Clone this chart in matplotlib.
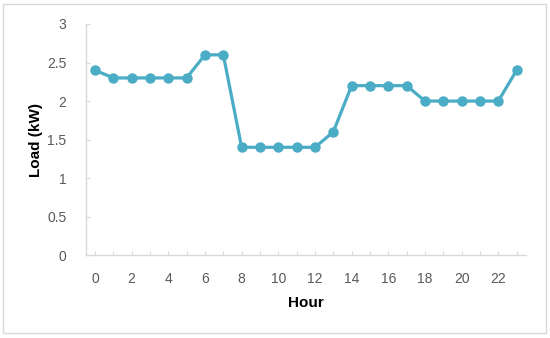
import matplotlib.pyplot as plt
from matplotlib.patches import Rectangle

hours = list(range(24))
load_kw = [2.4, 2.3, 2.3, 2.3, 2.3, 2.3, 2.6, 2.6, 1.4, 1.4, 1.4, 1.4,
           1.4, 1.6, 2.2, 2.2, 2.2, 2.2, 2.0, 2.0, 2.0, 2.0, 2.0, 2.4]
y_ticks = [0, 0.5, 1, 1.5, 2, 2.5, 3]
y_tick_labels = ["0", "0.5", "1", "1.5", "2", "2.5", "3"]

plt.rcParams["font.family"] = ["Liberation Sans", "DejaVu Sans"]

fig = plt.figure(figsize=(5.5, 3.38), dpi=100)
ax = fig.add_axes([0.156, 0.245, 0.80, 0.684])

# light grey frame round the whole chart
fig.patches.append(Rectangle((0.006, 0.015), 0.987, 0.972, transform=fig.transFigure,
                             fill=False, edgecolor="#d9d9d9", linewidth=1.0))

ax.plot(hours, load_kw, color="#4BACC6", linewidth=2.3, marker="o",
        markersize=6.5, markerfacecolor="#4BACC6", markeredgecolor="#4BACC6")

ax.set_xlim(-0.5, 23.5)
ax.set_ylim(0, 3)
ax.set_xticks(hours)
ax.set_xticklabels([str(h) if h % 2 == 0 else "" for h in hours])
ax.set_yticks(y_ticks)
ax.set_yticklabels(y_tick_labels)

for side in ["top", "right"]:
    ax.spines[side].set_visible(False)
for side in ["left", "bottom"]:
    ax.spines[side].set_color("#d9d9d9")
    ax.spines[side].set_linewidth(1.0)

ax.tick_params(axis="both", direction="in", length=3, color="#d9d9d9",
               labelcolor="#595959", labelsize=10)
ax.tick_params(axis="x", pad=12)
ax.tick_params(axis="y", pad=14)

ax.set_xlabel("Hour", fontweight="bold", fontsize=11, labelpad=7)
ax.set_ylabel("Load (kW)", fontweight="bold", fontsize=11, labelpad=3)

fig.savefig("out.png", dpi=100)
